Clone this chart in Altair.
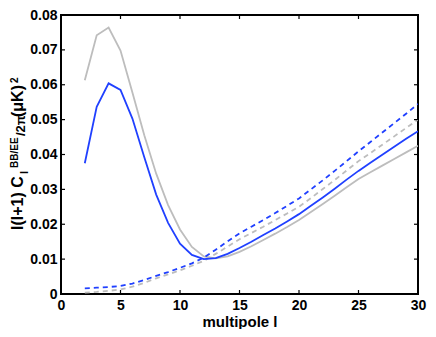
import altair as alt
import pandas as pd

ells = list(range(2, 31))

blue_solid = [0.0375, 0.0537, 0.0604, 0.0585, 0.0503, 0.0392, 0.0285, 0.0204, 0.0144,
              0.0112, 0.0100, 0.0103, 0.0115, 0.0132, 0.0150, 0.0169, 0.0188, 0.0208,
              0.0229, 0.0253, 0.0277, 0.0302, 0.0328, 0.0353, 0.0376, 0.0399, 0.0422,
              0.0445, 0.0467]
gray_solid = [0.0613, 0.0742, 0.0764, 0.0698, 0.0578, 0.0455, 0.0345, 0.0255, 0.0185,
              0.0135, 0.0108, 0.0102, 0.0108, 0.0121, 0.0137, 0.0155, 0.0173, 0.0192,
              0.0212, 0.0235, 0.0258, 0.0282, 0.0306, 0.0330, 0.0349, 0.0368, 0.0387,
              0.0406, 0.0425]
blue_dashed = [0.0016, 0.0018, 0.0020, 0.0023, 0.0030, 0.0040, 0.0052, 0.0063, 0.0075,
               0.0088, 0.0104, 0.0127, 0.0151, 0.0174, 0.0193, 0.0212, 0.0232, 0.0253,
               0.0274, 0.0300, 0.0326, 0.0353, 0.0381, 0.0409, 0.0436, 0.0463, 0.0490,
               0.0517, 0.0545]
gray_dashed = [0.0004, 0.0006, 0.0009, 0.0013, 0.0021, 0.0032, 0.0045, 0.0056, 0.0068,
               0.0081, 0.0095, 0.0115, 0.0136, 0.0157, 0.0175, 0.0193, 0.0212, 0.0231,
               0.0250, 0.0275, 0.0301, 0.0327, 0.0354, 0.0381, 0.0404, 0.0428, 0.0452,
               0.0476, 0.0500]

x_ticks = [0, 5, 10, 15, 20, 25, 30]
y_ticks = [0, 0.01, 0.02, 0.03, 0.04, 0.05, 0.06, 0.07, 0.08]

W, H = 357, 279
BLUE = "#2040ff"
GRAY = "#bdbdbd"
FONT = "Liberation Sans"

xscale = alt.Scale(domain=[0, 30], nice=False, zero=False)
yscale = alt.Scale(domain=[0, 0.08], nice=False, zero=False)
xaxis = alt.Axis(values=x_ticks, grid=False, domain=False, ticks=False,
                 labelPadding=4, titlePadding=2, labelFlush=False)
yaxis = alt.Axis(values=y_ticks, grid=False, domain=False, ticks=False,
                 labelPadding=4, labelFlush=False,
                 labelExpr="datum.value == 0 ? '0' : format(datum.value, '.2f')")


def X():
    return alt.X("l:Q", scale=xscale, axis=xaxis, title="multipole l")


def Y():
    return alt.Y("v:Q", scale=yscale, axis=yaxis, title=None)


def line(vals, color, dashed):
    df = pd.DataFrame({"l": ells, "v": vals})
    kw = dict(color=color, strokeWidth=1.8, clip=True)
    if dashed:
        kw["strokeDash"] = [5, 4]
    return alt.Chart(df).mark_line(**kw).encode(x=X(), y=Y())


xt = pd.DataFrame({"l": x_ticks})
yt = pd.DataFrame({"v": y_ticks})
tick_kw = dict(color="black", strokeWidth=1.2)
ticks_bottom = alt.Chart(xt).mark_rule(**tick_kw).encode(
    x=X(), y=alt.value(H), y2=alt.value(H - 4))
ticks_top = alt.Chart(xt).mark_rule(**tick_kw).encode(
    x=X(), y=alt.value(0), y2=alt.value(4))
ticks_left = alt.Chart(yt).mark_rule(**tick_kw).encode(
    y=Y(), x=alt.value(0), x2=alt.value(4))
ticks_right = alt.Chart(yt).mark_rule(**tick_kw).encode(
    y=Y(), x=alt.value(W), x2=alt.value(W - 4))

# y-axis title pieces (rotated text with sub/superscripts)
title_parts = [
    ("l(l+1) C", 16, -38, 215),
    ("l", 11, -33, 159),
    ("BB/EE", 10, -43, 153),
    ("/2\u03c0", 13, -36, 121),
    ("(\u03bcK)", 16, -38, 102),
    ("2", 10, -43, 68),
]
one = pd.DataFrame({"a": [0]})
title_layers = []
for txt, fs, px, py in title_parts:
    title_layers.append(
        alt.Chart(one).mark_text(angle=270, align="left", baseline="alphabetic",
                                 font=FONT, fontWeight="bold", fontSize=fs,
                                 color="black").encode(
            x=alt.value(px), y=alt.value(py), text=alt.value(txt))
    )

chart = alt.layer(
    line(gray_solid, GRAY, False),
    line(gray_dashed, GRAY, True),
    line(blue_solid, BLUE, False),
    line(blue_dashed, BLUE, True),
    ticks_bottom, ticks_top, ticks_left, ticks_right,
    *title_layers,
).properties(
    width=W, height=H,
    autosize=alt.AutoSizeParams(type="none"),
    padding={"left": 53, "top": 7, "right": 10, "bottom": 35},
).configure_view(
    stroke="black", strokeWidth=2
).configure_axis(
    labelFont=FONT, labelFontWeight="bold", labelFontSize=14, labelColor="black",
    titleFont=FONT, titleFontWeight="bold", titleFontSize=15, titleColor="black",
)

chart.save("out.html", embed_options={"renderer": "svg", "actions": False})
